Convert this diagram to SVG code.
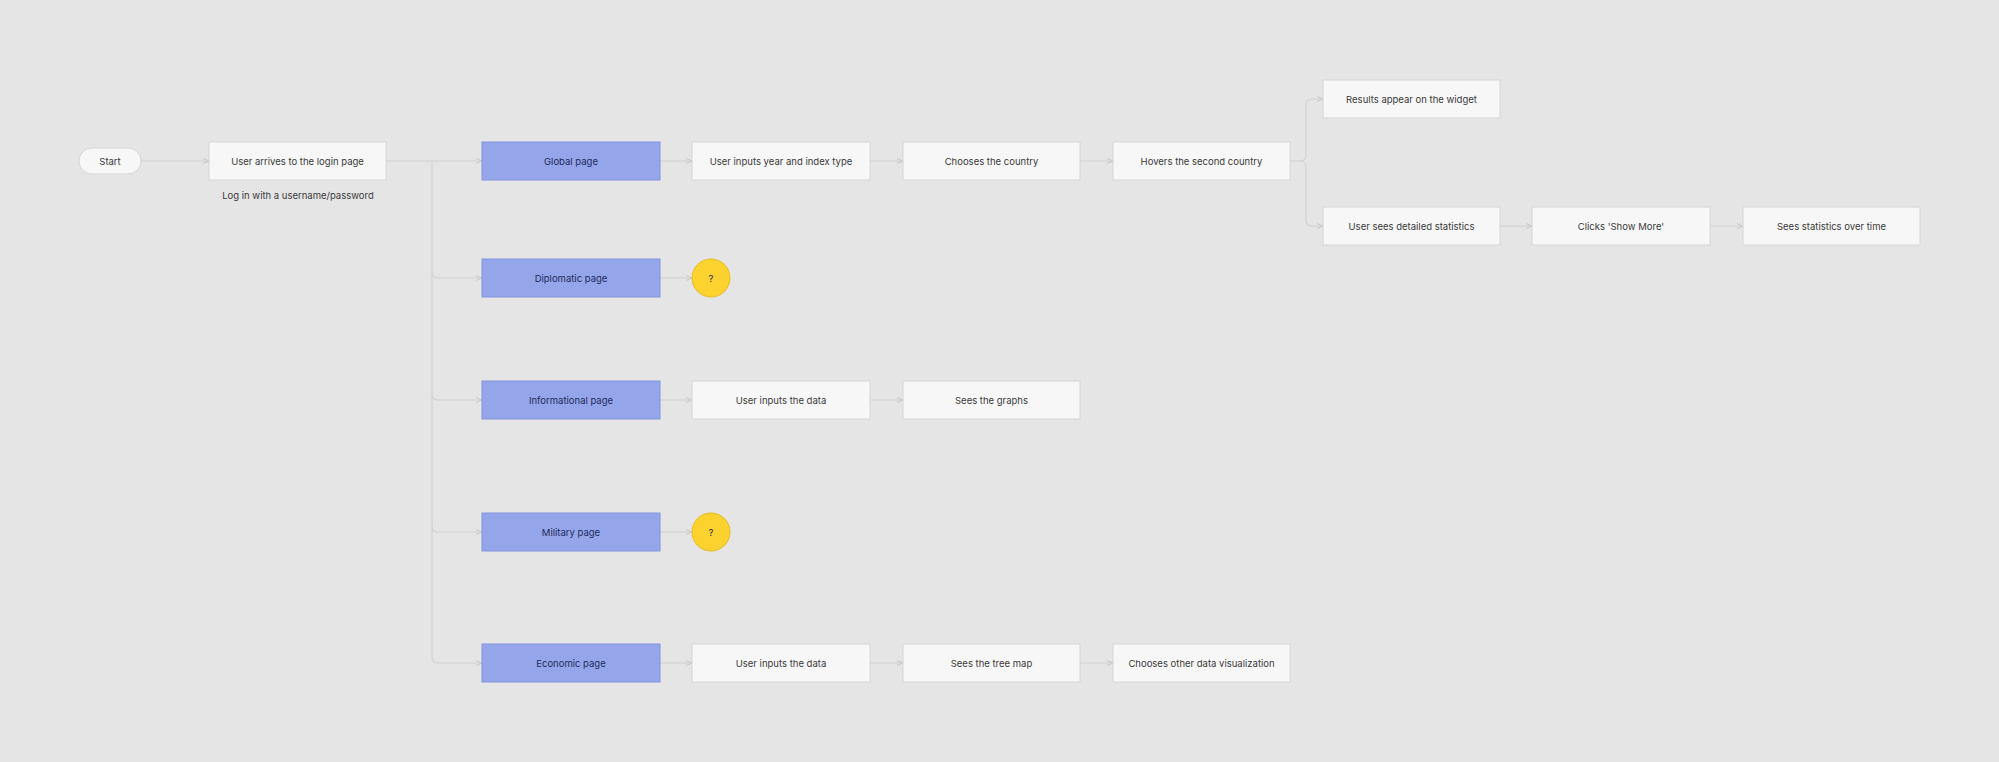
<svg xmlns="http://www.w3.org/2000/svg" width="1999" height="762" viewBox="0 0 1999 762">
<defs>
<style>
.bg{fill:#e5e5e5}
.box{fill:#f7f7f7;stroke:#d6d6d6;stroke-width:1}
.page{fill:#95a5ea;stroke:#8394df;stroke-width:1}
.q{fill:#fcd22e;stroke:#e7bb22;stroke-width:1}
.t{font-family:Inter,"Noto Sans","Liberation Sans",sans-serif;font-size:9.5px;fill:#3a3a3a;text-anchor:middle;dominant-baseline:central}
.tp{fill:#1f2b5c}
.c{fill:none;stroke:#d2d2d2;stroke-width:1.2}
</style>
<marker id="ah" viewBox="0 0 6 6" refX="6" refY="3" markerWidth="6" markerHeight="6" orient="auto" markerUnits="userSpaceOnUse">
<path d="M0,0.5 L6,3 L0,5.5" fill="none" stroke="#c8c8c8" stroke-width="1"/>
</marker>
</defs>
<rect class="bg" x="0" y="0" width="1999" height="762"/>
<g id="connectors">
<path class="c" d="M141,161 H209" marker-end="url(#ah)"/>
<path class="c" d="M386,161 H482" marker-end="url(#ah)"/>
<path class="c" d="M432,161 V272 Q432,278 438,278 H482" marker-end="url(#ah)"/>
<path class="c" d="M432,272 V394 Q432,400 438,400 H482" marker-end="url(#ah)"/>
<path class="c" d="M432,394 V526 Q432,532 438,532 H482" marker-end="url(#ah)"/>
<path class="c" d="M432,526 V657 Q432,663 438,663 H482" marker-end="url(#ah)"/>
<path class="c" d="M660,161 H692" marker-end="url(#ah)"/>
<path class="c" d="M870,161 H903" marker-end="url(#ah)"/>
<path class="c" d="M1080,161 H1113" marker-end="url(#ah)"/>
<path class="c" d="M1290,161 H1300 Q1306,161 1306,155 V105 Q1306,99 1312,99 H1323" marker-end="url(#ah)"/>
<path class="c" d="M1300,161 Q1306,161 1306,167 V220 Q1306,226 1312,226 H1323" marker-end="url(#ah)"/>
<path class="c" d="M1500,226 H1532" marker-end="url(#ah)"/>
<path class="c" d="M1710,226 H1743" marker-end="url(#ah)"/>
<path class="c" d="M660,278 H692" marker-end="url(#ah)"/>
<path class="c" d="M660,400 H692" marker-end="url(#ah)"/>
<path class="c" d="M870,400 H903" marker-end="url(#ah)"/>
<path class="c" d="M660,532 H692" marker-end="url(#ah)"/>
<path class="c" d="M660,663 H692" marker-end="url(#ah)"/>
<path class="c" d="M870,663 H903" marker-end="url(#ah)"/>
<path class="c" d="M1080,663 H1113" marker-end="url(#ah)"/>
</g>
<g id="start"><rect class="box" x="79" y="148" width="62" height="26" rx="13"/><text class="t" x="110" y="161">Start</text></g>
<g id="login"><rect class="box" x="209" y="142" width="177" height="38"/><text class="t" x="297.5" y="161">User arrives to the login page</text></g>
<g id="login-note"><text class="t" x="298" y="195">Log in with a username/password</text></g>
<g id="global"><rect class="page" x="482" y="142" width="178" height="38"/><text class="t tp" x="571" y="161">Global page</text></g>
<g id="g1"><rect class="box" x="692" y="142" width="178" height="38"/><text class="t" x="781" y="161">User inputs year and index type</text></g>
<g id="g2"><rect class="box" x="903" y="142" width="177" height="38"/><text class="t" x="991.5" y="161">Chooses the country</text></g>
<g id="g3"><rect class="box" x="1113" y="142" width="177" height="38"/><text class="t" x="1201.5" y="161">Hovers the second country</text></g>
<g id="g4"><rect class="box" x="1323" y="80" width="177" height="38"/><text class="t" x="1411.5" y="99">Results appear on the widget</text></g>
<g id="g5"><rect class="box" x="1323" y="207" width="177" height="38"/><text class="t" x="1411.5" y="226">User sees detailed statistics</text></g>
<g id="g6"><rect class="box" x="1532" y="207" width="178" height="38"/><text class="t" x="1621" y="226">Clicks 'Show More'</text></g>
<g id="g7"><rect class="box" x="1743" y="207" width="177" height="38"/><text class="t" x="1831.5" y="226">Sees statistics over time</text></g>
<g id="diplomatic"><rect class="page" x="482" y="259" width="178" height="38"/><text class="t tp" x="571" y="278">Diplomatic page</text></g>
<g id="d1"><circle class="q" cx="711" cy="278" r="19"/><text class="t tp" x="711" y="278">?</text></g>
<g id="informational"><rect class="page" x="482" y="381" width="178" height="38"/><text class="t tp" x="571" y="400">Informational page</text></g>
<g id="i1"><rect class="box" x="692" y="381" width="178" height="38"/><text class="t" x="781" y="400">User inputs the data</text></g>
<g id="i2"><rect class="box" x="903" y="381" width="177" height="38"/><text class="t" x="991.5" y="400">Sees the graphs</text></g>
<g id="military"><rect class="page" x="482" y="513" width="178" height="38"/><text class="t tp" x="571" y="532">Military page</text></g>
<g id="m1"><circle class="q" cx="711" cy="532" r="19"/><text class="t tp" x="711" y="532">?</text></g>
<g id="economic"><rect class="page" x="482" y="644" width="178" height="38"/><text class="t tp" x="571" y="663">Economic page</text></g>
<g id="e1"><rect class="box" x="692" y="644" width="178" height="38"/><text class="t" x="781" y="663">User inputs the data</text></g>
<g id="e2"><rect class="box" x="903" y="644" width="177" height="38"/><text class="t" x="991.5" y="663">Sees the tree map</text></g>
<g id="e3"><rect class="box" x="1113" y="644" width="177" height="38"/><text class="t" x="1201.5" y="663">Chooses other data visualization</text></g>
</svg>
